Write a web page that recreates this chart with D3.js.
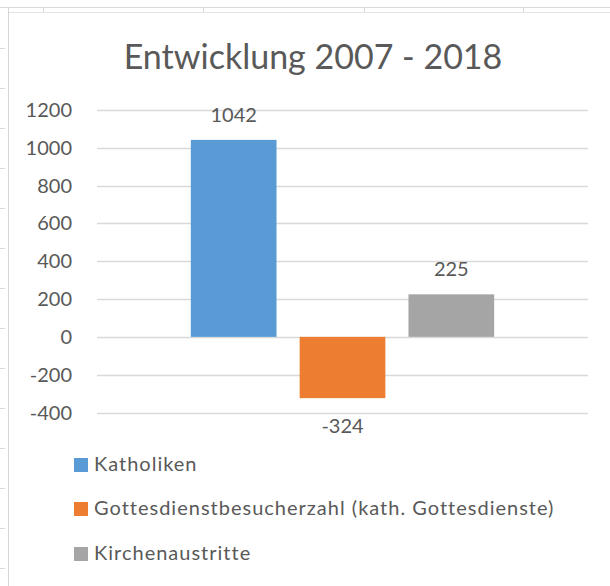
<!DOCTYPE html>
<html>
<head>
<meta charset="utf-8">
<script src="https://cdn.jsdelivr.net/npm/d3@7"></script>
<style>
  html, body { margin: 0; padding: 0; background: #fff; }
  svg { display: block; font-family: Lato, "Open Sans", sans-serif; }
</style>
</head>
<body>
<svg id="mainsvg" width="610" height="586"></svg>
<script>
// data
let title = "Entwicklung 2007 - 2018";
let categories = [""];
let seriesNames = ["Katholiken", "Gottesdienstbesucherzahl (kath. Gottesdienste)", "Kirchenaustritte"];
let seriesValues = [1042, -324, 225];
let seriesColors = ["#5B9BD5", "#ED7D31", "#A5A5A5"];
let yTicks = [-400, -200, 0, 200, 400, 600, 800, 1000, 1200];

let svg = d3.select("#mainsvg");
let textColor = "#595959";
let gridColor = "#D9D9D9";

// spreadsheet frame behind the chart
let frameg = svg.append("g").attr("id", "frame-g");
frameg.append("line").attr("x1", 0).attr("x2", 610).attr("y1", 7.5).attr("y2", 7.5)
    .attr("stroke", "#DADADA");
frameg.append("line").attr("x1", 8).attr("x2", 610).attr("y1", 12.5).attr("y2", 12.5)
    .attr("stroke", "#E3E3E3");
frameg.append("line").attr("x1", 8.5).attr("x2", 8.5).attr("y1", 8).attr("y2", 586)
    .attr("stroke", "#D6D6D6");
[43, 203, 364, 523].forEach(x => {
    frameg.append("line").attr("x1", x + 0.5).attr("x2", x + 0.5).attr("y1", 7).attr("y2", 12)
        .attr("stroke", "#DADADA");
});
d3.range(48, 586, 40).forEach(y => {
    frameg.append("line").attr("x1", 0).attr("x2", 5).attr("y1", y + 0.5).attr("y2", y + 0.5)
        .attr("stroke", "#DADADA");
});

// scales
let plotLeft = 97, plotRight = 588;
let y = d3.scaleLinear().domain([-400, 1200]).range([412.5, 110]);
let x0 = d3.scaleBand().domain(categories).range([plotLeft, plotRight])
    .paddingInner(0).paddingOuter(0.3093);
let x1 = d3.scaleBand().domain(seriesNames).range([0, x0.bandwidth()])
    .paddingInner(0.27 / 1.27).paddingOuter(0);

// title
svg.append("text")
    .attr("x", 313).attr("y", 69)
    .attr("text-anchor", "middle")
    .attr("fill", textColor)
    .style("font-size", "34px")
    .text(title);

// gridlines + y labels
let axisg = svg.append("g").attr("id", "axis-g");
axisg.selectAll(".grid").data(yTicks).enter()
    .append("line")
    .attr("class", "grid")
    .attr("x1", plotLeft).attr("x2", plotRight)
    .attr("y1", d => Math.round(y(d)) + 0.5).attr("y2", d => Math.round(y(d)) + 0.5)
    .attr("stroke", gridColor).attr("stroke-width", 1.3);
axisg.selectAll(".ylabel").data(yTicks).enter()
    .append("text")
    .attr("class", "ylabel")
    .attr("x", 72).attr("y", d => y(d) + 7)
    .attr("text-anchor", "end")
    .attr("fill", textColor)
    .style("font-size", "20px")
    .text(d => d);

// bars
let barData = seriesNames.map((s, i) => ({name: s, value: seriesValues[i], color: seriesColors[i], cat: categories[0]}));
let barg = svg.append("g").attr("id", "bar-g");
barg.selectAll(".bar").data(barData).enter()
    .append("rect")
    .attr("class", "bar")
    .attr("x", d => x0(d.cat) + x1(d.name))
    .attr("width", x1.bandwidth())
    .attr("y", d => y(Math.max(0, d.value)))
    .attr("height", d => Math.abs(y(d.value) - y(0)))
    .attr("fill", d => d.color);

// value labels
barg.selectAll(".vlabel").data(barData).enter()
    .append("text")
    .attr("class", "vlabel")
    .attr("x", d => x0(d.cat) + x1(d.name) + x1.bandwidth() / 2)
    .attr("y", d => d.value >= 0 ? y(d.value) - 18 : y(d.value) + 35)
    .attr("text-anchor", "middle")
    .attr("fill", textColor)
    .style("font-size", "20px")
    .text(d => d.value);

// legend
let legendg = svg.append("g").attr("id", "legend-g");
let legendRows = [465, 509, 554];
let legend = legendg.selectAll(".legend").data(barData).enter()
    .append("g")
    .attr("class", "legend")
    .attr("transform", (d, i) => "translate(74," + legendRows[i] + ")");
legend.append("rect")
    .attr("x", 0).attr("y", -7)
    .attr("width", 14).attr("height", 14)
    .attr("fill", d => d.color);
legend.append("text")
    .attr("x", 20).attr("y", 6)
    .attr("fill", textColor)
    .style("font-size", "20px")
    .style("letter-spacing", "1px")
    .text(d => d.name);
</script>
</body>
</html>
